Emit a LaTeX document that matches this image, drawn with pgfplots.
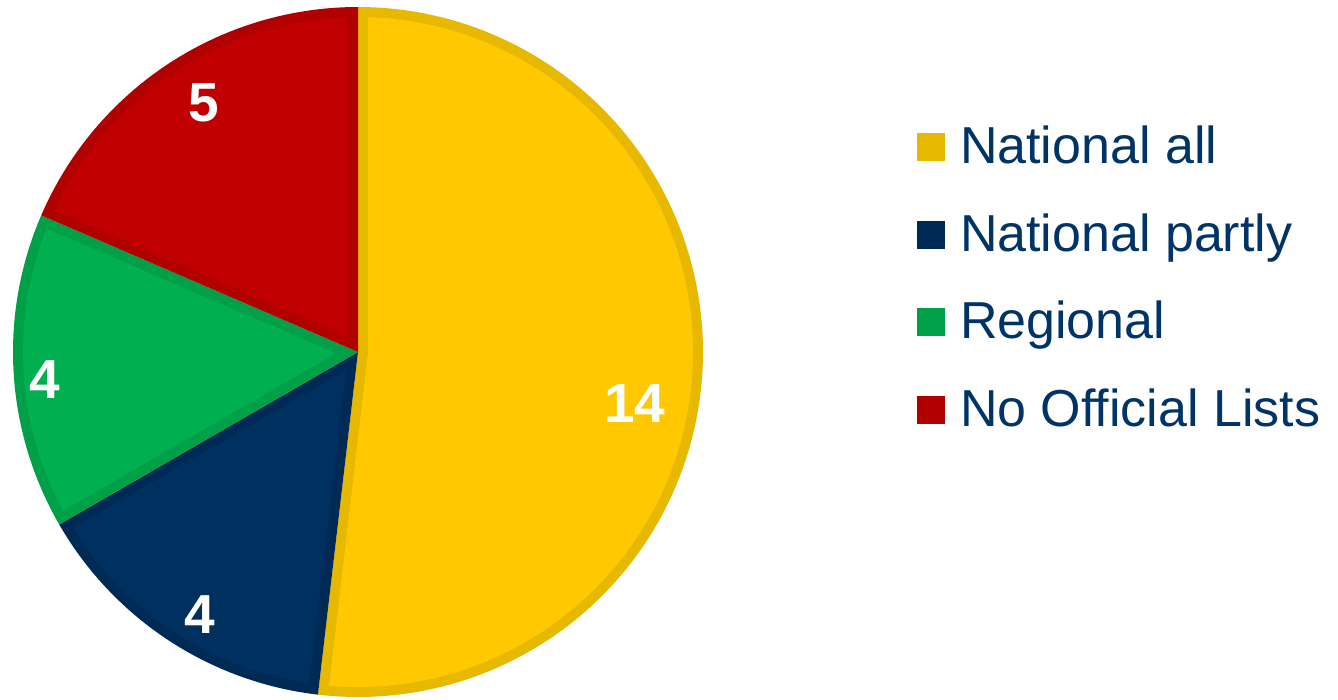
\documentclass[border=0pt]{standalone}
\usepackage{pgfplots}
\pgfplotsset{compat=1.18}
\usepackage{fontspec}
\setmainfont{Liberation Sans}
\definecolor{yfill}{RGB}{255,200,0}
\definecolor{ybord}{RGB}{230,184,0}
\definecolor{bfill}{RGB}{0,48,96}
\definecolor{bbord}{RGB}{0,42,86}
\definecolor{gfill}{RGB}{0,176,80}
\definecolor{gbord}{RGB}{0,160,72}
\definecolor{rfill}{RGB}{192,0,0}
\definecolor{rbord}{RGB}{176,0,0}
\definecolor{legtext}{RGB}{0,51,102}
% data
\def\vNA{14}\def\vNP{4}\def\vRG{4}\def\vNO{5}
\pgfmathsetmacro\tot{\vNA+\vNP+\vRG+\vNO}
\def\cx{358}\def\cy{347}\def\R{345}\def\bw{10}
\pgfmathsetmacro\aA{90-360*\vNA/\tot}\def\bA{90}
\pgfmathsetmacro\aB{\aA-360*\vNP/\tot}\let\bB\aA
\pgfmathsetmacro\aC{\aB-360*\vRG/\tot}\let\bC\aB
\pgfmathsetmacro\aD{\aC-360*\vNO/\tot}\let\bD\aC
\newcommand\slice[4]{%
  \pgfmathsetmacro\sa{#1}\pgfmathsetmacro\sb{#2}%
  \pgfmathsetmacro\sm{(\sa+\sb)/2}%
  \pgfmathsetmacro\off{\bw/sin((\sb-\sa)/2)}%
  \pgfmathsetmacro\da{asin(\bw/(\R-\bw))}%
  \pgfmathsetmacro\ia{\sa+\da}\pgfmathsetmacro\ib{\sb-\da}%
  \pgfmathsetmacro\vx{\cx+\off*cos(\sm)}\pgfmathsetmacro\vy{\cy+\off*sin(\sm)}%
  \pgfmathsetmacro\ri{\R-\bw}%
  \edef\doplot{%
    \noexpand\addplot[fill=#3, draw=none, forget plot, domain=\sa:\sb, samples=150, variable=\noexpand\t]
      ({\cx+\R*cos(\noexpand\t)},{\cy+\R*sin(\noexpand\t)}) -- (axis cs:\cx,\cy) -- cycle;
    \noexpand\addplot[fill=#4, draw=none, forget plot, domain=\ia:\ib, samples=150, variable=\noexpand\t]
      ({\cx+\ri*cos(\noexpand\t)},{\cy+\ri*sin(\noexpand\t)}) -- (axis cs:\vx,\vy) -- cycle;
  }\doplot}
\begin{document}
\begin{tikzpicture}
\begin{axis}[
  width=1338pt, height=699pt, scale only axis,
  xmin=0, xmax=1338, ymin=0, ymax=699,
  hide axis, clip=false,
  legend style={at={(axis cs:917,575)}, anchor=north west, draw=none, fill=none,
    inner sep=0pt, outer sep=0pt, row sep=35.5pt, column sep=15pt,
    nodes={inner sep=0pt, outer sep=0pt, text height=40pt, text depth=12pt,
      font=\fontsize{52}{60}\selectfont, text=legtext}},
  legend cell align=left,
  legend image code/.code={\fill[#1, draw=none] (0pt,-11.5pt) rectangle (28pt,16.5pt);},
]
\path (rel axis cs:0,0) rectangle (rel axis cs:1,1);
\slice{\aA}{\bA}{ybord}{yfill}
\slice{\aB}{\bB}{bbord}{bfill}
\slice{\aC}{\bC}{gbord}{gfill}
\slice{\aD}{\bD}{rbord}{rfill}
\addlegendimage{fill=ybord, draw=none}\addlegendentry{National all}
\addlegendimage{fill=bbord, draw=none}\addlegendentry{National partly}
\addlegendimage{fill=gbord, draw=none}\addlegendentry{Regional}
\addlegendimage{fill=rbord, draw=none}\addlegendentry{No Official Lists}
\node[text=white, font=\bfseries\fontsize{55}{60}\selectfont] at (axis cs:635,295) {14};
\node[text=white, font=\bfseries\fontsize{55}{60}\selectfont] at (axis cs:204,596) {5};
\node[text=white, font=\bfseries\fontsize{55}{60}\selectfont] at (axis cs:200,84) {4};
\node[text=white, font=\bfseries\fontsize{55}{60}\selectfont] at (axis cs:45,319) {4};
\end{axis}
\end{tikzpicture}
\end{document}
